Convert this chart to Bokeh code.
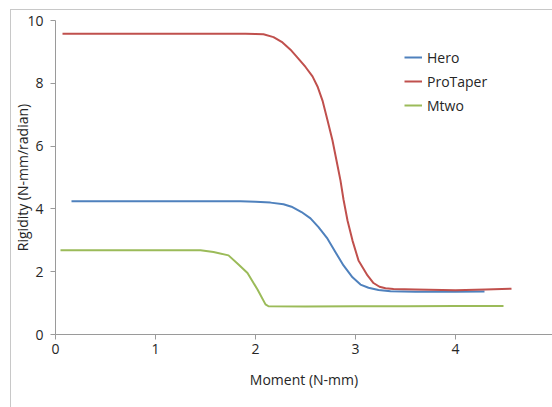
from bokeh.plotting import figure
from bokeh.models import Range1d, FixedTicker, Legend, LegendItem, Label, InlineStyleSheet
from bokeh.embed import file_html
from bokeh.resources import INLINE

# Data
hero_x = [0.16, 0.5, 1.0, 1.5, 1.85, 2.0, 2.15, 2.28, 2.36, 2.46, 2.55, 2.63, 2.72, 2.80, 2.88, 2.97, 3.05, 3.13, 3.23, 3.35, 3.6, 4.0, 4.29]
hero_y = [4.24, 4.24, 4.24, 4.24, 4.24, 4.23, 4.20, 4.15, 4.07, 3.90, 3.70, 3.42, 3.05, 2.62, 2.20, 1.82, 1.59, 1.49, 1.42, 1.38, 1.36, 1.36, 1.37]

protaper_x = [0.07, 0.5, 1.0, 1.5, 1.9, 2.0, 2.08, 2.18, 2.27, 2.35, 2.42, 2.50, 2.57, 2.62, 2.67, 2.72, 2.77, 2.81, 2.85, 2.88, 2.92, 2.97, 3.03, 3.12, 3.18, 3.24, 3.30, 3.38, 3.6, 4.0, 4.3, 4.56]
protaper_y = [9.58, 9.58, 9.58, 9.58, 9.58, 9.57, 9.56, 9.47, 9.30, 9.07, 8.82, 8.52, 8.22, 7.90, 7.45, 6.82, 6.18, 5.54, 4.90, 4.30, 3.63, 2.99, 2.36, 1.88, 1.64, 1.52, 1.47, 1.45, 1.43, 1.41, 1.43, 1.46]

mtwo_x = [0.05, 0.5, 1.0, 1.45, 1.58, 1.73, 1.83, 1.92, 2.02, 2.10, 2.13, 2.5, 3.0, 3.5, 4.0, 4.48]
mtwo_y = [2.68, 2.68, 2.68, 2.68, 2.63, 2.52, 2.23, 1.96, 1.43, 0.96, 0.90, 0.89, 0.90, 0.90, 0.91, 0.91]

series_names = ["Hero", "ProTaper", "Mtwo"]
series_colors = ["#4F81BD", "#C0504D", "#9BBB59"]

x_ticks = [0, 1, 2, 3, 4, 5]
y_ticks = [0, 2, 4, 6, 8, 10]

FONT = "Open Sans"
TEXT = "#262626"
AXIS = "#9A9A9A"

border_css = InlineStyleSheet(css="""
:host { position: relative; }
:host::after {
  content: ''; position: absolute; left: 10px; top: 9px; right: 0; bottom: 0;
  border-left: 1px solid #C8C8C8; border-top: 1px solid #C8C8C8;
  pointer-events: none; z-index: 10;
}
""")

p = figure(width=552, height=407, output_backend="svg", toolbar_location=None,
           x_range=Range1d(0, 4.97), y_range=Range1d(0, 10),
           min_border_left=55, min_border_right=0, min_border_top=20, min_border_bottom=73)
p.stylesheets = [border_css]
p.outline_line_color = None
p.grid.visible = False
p.background_fill_color = "white"
p.border_fill_color = "white"

r_hero = p.line(hero_x, hero_y, line_color=series_colors[0], line_width=2, line_join="round")
r_pro = p.line(protaper_x, protaper_y, line_color=series_colors[1], line_width=2, line_join="round")
r_mtwo = p.line(mtwo_x, mtwo_y, line_color=series_colors[2], line_width=2, line_join="round")

for ax in (p.xaxis[0], p.yaxis[0]):
    ax.axis_line_color = AXIS
    ax.major_tick_line_color = AXIS
    ax.major_tick_out = 5
    ax.major_tick_in = 0
    ax.minor_tick_line_color = None
    ax.major_label_text_font = FONT
    ax.major_label_text_font_size = "14px"
    ax.major_label_text_color = TEXT
    ax.axis_label_text_font = FONT
    ax.axis_label_text_font_size = "14px"
    ax.axis_label_text_color = TEXT
    ax.axis_label_text_font_style = "normal"

p.xaxis[0].ticker = FixedTicker(ticks=x_ticks)
p.yaxis[0].ticker = FixedTicker(ticks=y_ticks)
p.xaxis[0].axis_label = "Moment (N-mm)"
p.yaxis[0].axis_label = "Rigidity (N-mm/radian)"
p.xaxis[0].major_label_standoff = 4
p.yaxis[0].major_label_standoff = 7
p.xaxis[0].axis_label_standoff = 13
p.yaxis[0].axis_label_standoff = -8

# partially visible tick label "5" at the right edge (as in the reference)
p.add_layout(Label(x=5, y=0, text="5", text_font=FONT, text_font_size="14px",
                   text_color=TEXT, text_align="center", text_baseline="top",
                   y_offset=-9))

legend = Legend(items=[LegendItem(label=series_names[0], renderers=[r_hero]),
                       LegendItem(label=series_names[1], renderers=[r_pro]),
                       LegendItem(label=series_names[2], renderers=[r_mtwo])],
                location=(349, 219))
legend.border_line_color = None
legend.background_fill_alpha = 0
legend.padding = 0
legend.margin = 0
legend.spacing = 4
legend.glyph_width = 18
legend.glyph_height = 20
legend.label_standoff = 5
legend.label_text_font = FONT
legend.label_text_font_size = "14px"
legend.label_text_color = TEXT
p.add_layout(legend)

open("out.html", "w").write(file_html(p, INLINE))
